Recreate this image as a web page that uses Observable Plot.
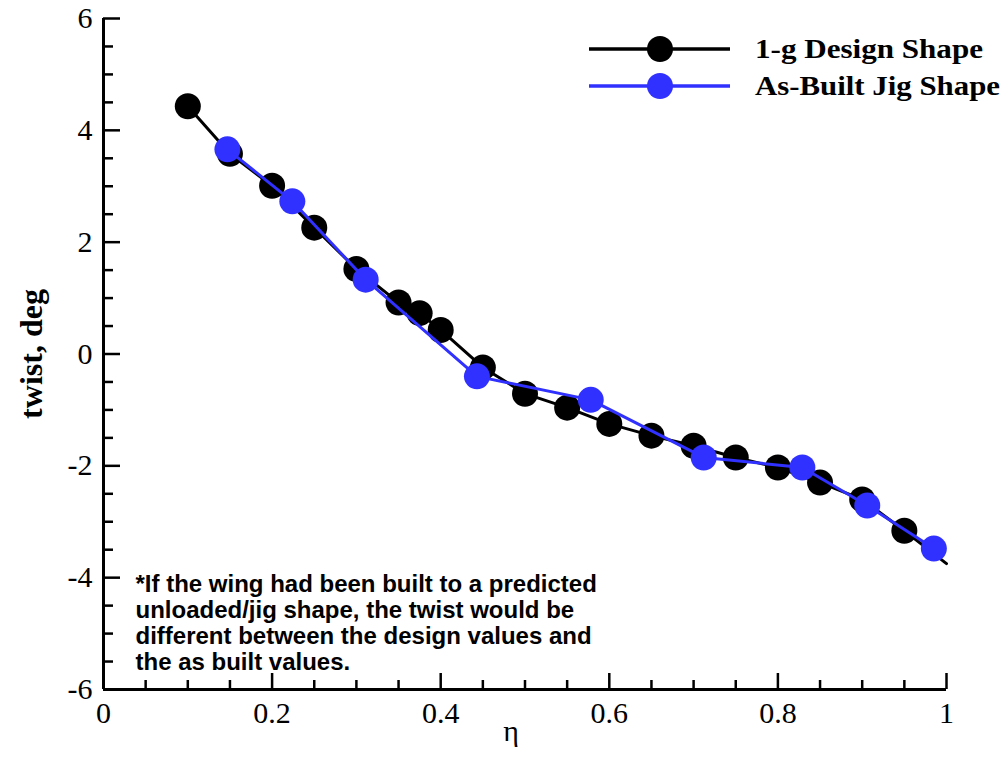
<!DOCTYPE html>
<html>
<head>
<meta charset="utf-8">
<script src="https://cdn.jsdelivr.net/npm/d3@7"></script>
<script src="https://cdn.jsdelivr.net/npm/@observablehq/plot@0.6"></script>
<style>
  body { margin: 0; background: #fff; }
  #wrap { position: relative; width: 1008px; height: 761px; }
  #legend { position: absolute; left: 0; top: 0; }
  #chart g[aria-label="x-axis tick label"] text,
  #chart g[aria-label="y-axis tick label"] text {
    font-family: "Liberation Serif", serif !important;
    font-size: 30px !important;
    font-variant: normal !important;
  }
</style>
</head>
<body>
<div id="wrap"><div id="chart"></div><svg id="legend" width="1008" height="120"></svg></div>
<script>
// ---- data ----
const designEta   = [0.10, 0.15, 0.20, 0.25, 0.30, 0.35, 0.375, 0.40, 0.45, 0.50, 0.55, 0.60, 0.65, 0.70, 0.75, 0.80, 0.85, 0.90, 0.95, 1.00];
const designTwist = [4.43, 3.58, 3.01, 2.26, 1.52, 0.92, 0.73, 0.43, -0.24, -0.71, -0.96, -1.25, -1.46, -1.64, -1.85, -2.03, -2.30, -2.60, -3.16, -3.75];
const jigEta      = [0.147, 0.224, 0.311, 0.443, 0.578, 0.712, 0.829, 0.906, 0.985];
const jigTwist    = [3.66, 2.73, 1.33, -0.40, -0.82, -1.85, -2.03, -2.71, -3.48];
const seriesNames = ["1-g Design Shape", "As-Built Jig Shape"];
const seriesColors = ["#000000", "#3030ff"];
const xTicks = [0, 0.2, 0.4, 0.6, 0.8, 1];
const xTickLabels = ["0", "0.2", "0.4", "0.6", "0.8", "1"];
const yTicks = [-6, -4, -2, 0, 2, 4, 6];
const xLabel = "η";
const yLabel = "twist, deg";
const note = "*If the wing had been built to a predicted\nunloaded/jig shape, the twist would be\ndifferent between the design values and\nthe as built values.";

const design = designEta.map((x, i) => ({x, y: designTwist[i]}));
const jig = jigEta.map((x, i) => ({x, y: jigTwist[i]}));
const xMinor = d3.range(0, 1.0001, 0.05).filter(v => !xTicks.some(t => Math.abs(t - v) < 1e-6));
const yMinor = d3.range(-6, 6.0001, 0.5).filter(v => !yTicks.some(t => Math.abs(t - v) < 1e-6));

const serif = "Liberation Serif";
const chart = Plot.plot({
  width: 1008,
  height: 761,
  marginLeft: 103,
  marginRight: 62,
  marginTop: 18,
  marginBottom: 72,
  x: {domain: [0, 1]},
  y: {domain: [-6, 6]},
  marks: [
    Plot.axisX(xTicks, {tickSize: -16, tickPadding: 28, tickFormat: (d, i) => xTickLabels[i], label: null,
      fontFamily: serif, fontSize: 30}),
    Plot.axisX(xMinor, {tickSize: -9, text: null, label: null}),
    Plot.axisY(yTicks, {tickSize: -17, tickPadding: 28, tickFormat: d => String(d), label: null,
      fontFamily: serif, fontSize: 30}),
    Plot.axisY(yMinor, {tickSize: -10, text: null, label: null}),
    Plot.ruleX([0], {strokeWidth: 3}),
    Plot.ruleY([-6], {strokeWidth: 3}),
    Plot.line(design, {x: "x", y: "y", stroke: seriesColors[0], strokeWidth: 3}),
    Plot.dot(design.filter(d => d.x < 1), {x: "x", y: "y", r: 13, fill: seriesColors[0]}),
    Plot.line(jig, {x: "x", y: "y", stroke: seriesColors[1], strokeWidth: 3}),
    Plot.dot(jig, {x: "x", y: "y", r: 13, fill: seriesColors[1]}),
    Plot.text([note], {frameAnchor: "bottom-left", dx: 32, dy: -20, lineAnchor: "bottom", textAnchor: "start",
      fontFamily: "Liberation Sans", fontWeight: "bold", fontSize: 24, lineHeight: 1.07}),
    Plot.text([yLabel], {frameAnchor: "left", textAnchor: "middle", dx: -72, rotate: -90, fontWeight: "bold", fontSize: 32, fontFamily: serif}),
    Plot.text([xLabel], {frameAnchor: "bottom", textAnchor: "middle", dx: -14, dy: 51, fontSize: 30, fontFamily: serif})
  ]
});
document.getElementById("chart").appendChild(chart);
// thicker major / minor tick strokes
d3.select(chart).selectAll('g[aria-label="x-axis tick"], g[aria-label="y-axis tick"]').attr("stroke-width", 2.5);

// ---- legend ----
const lg = d3.select("#legend");
const legendWidths = [228, 245];
seriesNames.forEach((name, i) => {
  const y = 49 + i * 37;
  lg.append("line").attr("x1", 589).attr("x2", 730).attr("y1", y).attr("y2", y)
    .attr("stroke", seriesColors[i]).attr("stroke-width", 3.5);
  lg.append("circle").attr("cx", 660).attr("cy", y).attr("r", 13).attr("fill", seriesColors[i]);
  lg.append("text").attr("x", 755).attr("y", y + 9).text(name)
    .attr("textLength", legendWidths[i]).attr("lengthAdjust", "spacingAndGlyphs")
    .attr("font-family", serif).attr("font-weight", "bold").attr("font-size", 28).attr("fill", "#000");
});
</script>
</body>
</html>
